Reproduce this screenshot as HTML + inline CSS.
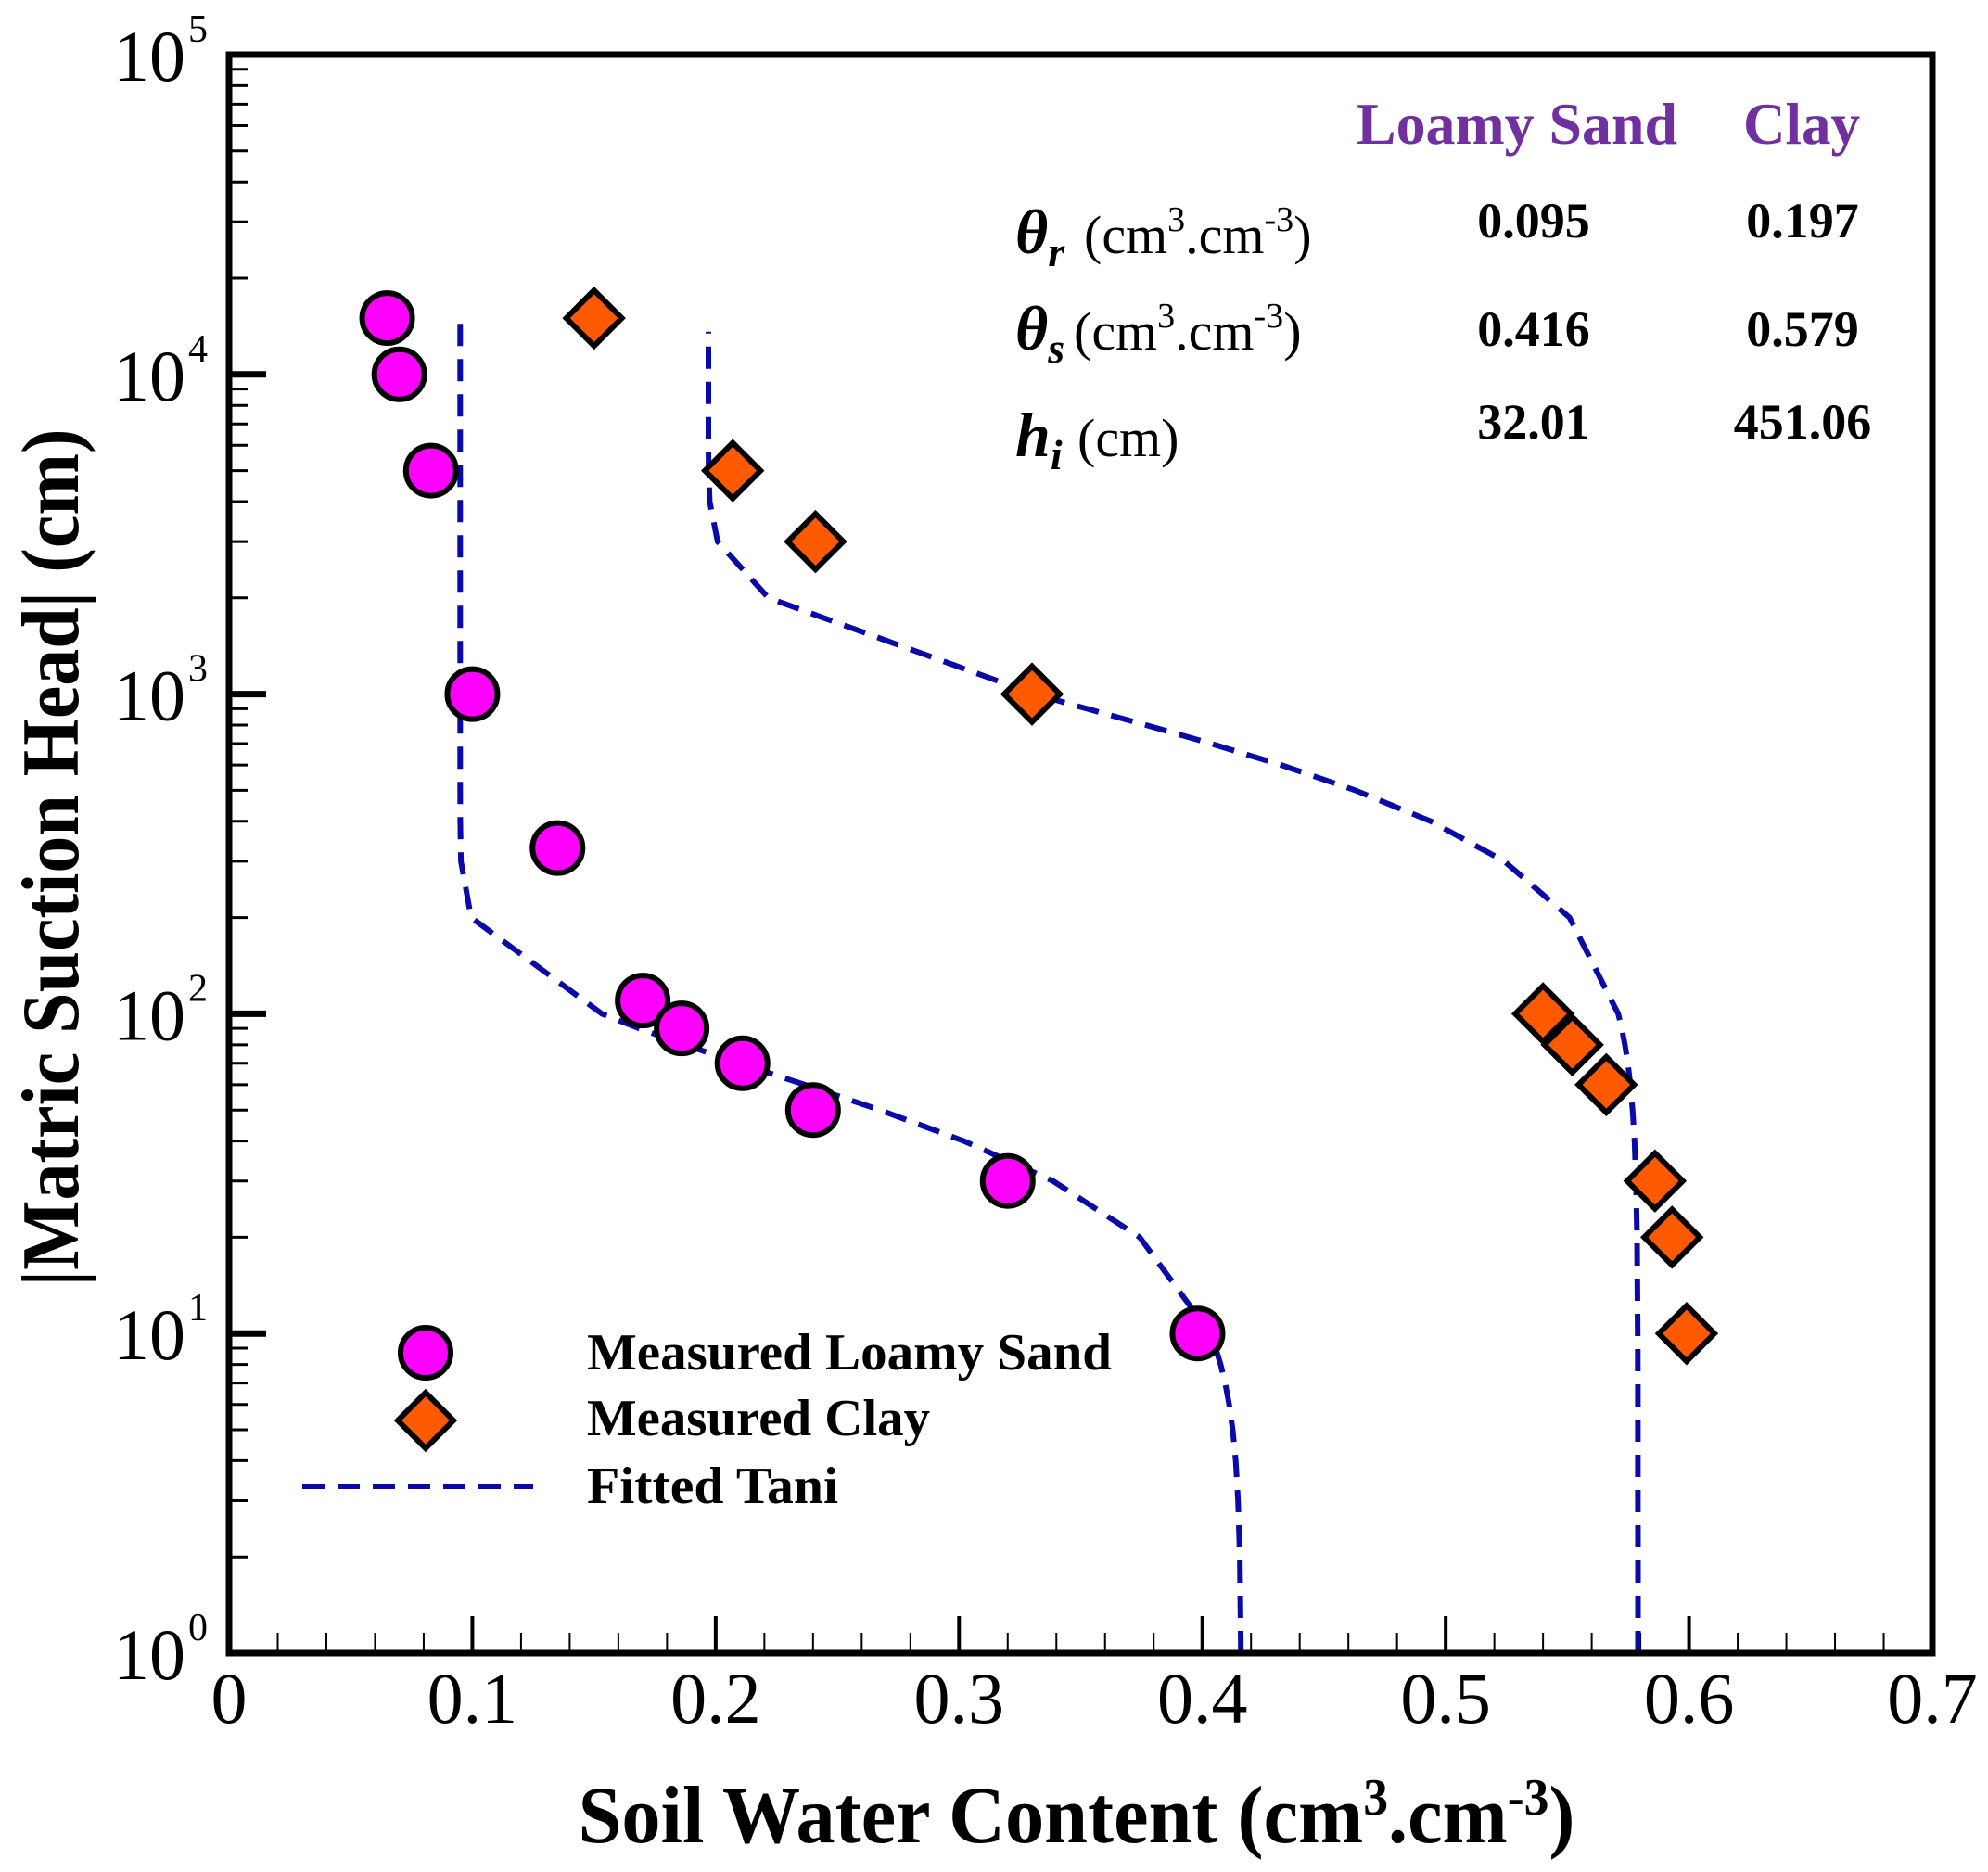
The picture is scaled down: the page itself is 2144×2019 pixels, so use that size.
<!DOCTYPE html>
<html><head><meta charset="utf-8"><style>
html,body{margin:0;padding:0;background:#fff}
svg{display:block}
text{font-family:"Liberation Serif",serif}
</style></head><body>
<svg id="s" width="2144" height="2019" viewBox="0 0 2144 2019" xmlns="http://www.w3.org/2000/svg">
<rect width="2144" height="2019" fill="#fff"/>
<g id="ticks" stroke="#000"></g>
<g id="curves" fill="none" stroke="#0a0aa8" stroke-width="6" stroke-dasharray="24 14"></g>
<g id="pts" stroke="#000" stroke-width="6"></g>
<rect x="247" y="59" width="1837" height="1724" fill="none" stroke="#000" stroke-width="7"/>
<g id="labels" font-size="78" fill="#000"></g>
<text x="1161" y="1987" font-size="88" font-weight="bold" text-anchor="middle" textLength="1075" lengthAdjust="spacingAndGlyphs">Soil Water Content (cm<tspan dy="-30" font-size="56">3</tspan><tspan dy="30">.cm</tspan><tspan dy="-30" font-size="56">-3</tspan><tspan dy="30">)</tspan></text>
<text transform="translate(84,925) rotate(-90)" font-size="88" font-weight="bold" text-anchor="middle" textLength="925" lengthAdjust="spacingAndGlyphs">|Matric Suction Head| (cm)</text>
<!-- legend -->
<circle cx="459" cy="1459" r="27" fill="#ff00ff" stroke="#000" stroke-width="6"/>
<polygon points="459,1502 489,1532 459,1562 429,1532" fill="#ff5a00" stroke="#000" stroke-width="6"/>
<line x1="326" y1="1603" x2="575" y2="1603" stroke="#0a0aa8" stroke-width="6" stroke-dasharray="24 14"/>
<g font-size="56" font-weight="bold">
<text x="633" y="1477" textLength="566" lengthAdjust="spacingAndGlyphs">Measured Loamy Sand</text>
<text x="633" y="1548" textLength="370" lengthAdjust="spacingAndGlyphs">Measured Clay</text>
<text x="633" y="1621" textLength="271" lengthAdjust="spacingAndGlyphs">Fitted Tani</text>
</g>
<!-- table -->
<g font-size="63" font-weight="bold" fill="#7030a0">
<text x="1463" y="155" textLength="346" lengthAdjust="spacingAndGlyphs">Loamy Sand</text>
<text x="1880" y="155" textLength="126" lengthAdjust="spacingAndGlyphs">Clay</text>
</g>
<g font-size="68">
<text x="1095" y="273"><tspan font-weight="bold" font-style="italic">θ</tspan><tspan font-weight="bold" font-style="italic" font-size="46" dy="14">r</tspan><tspan font-size="58" dy="-14" x="1169">(cm</tspan><tspan font-size="38" dy="-24">3</tspan><tspan font-size="58" dy="24">.cm</tspan><tspan font-size="38" dy="-24">-3</tspan><tspan font-size="58" dy="24">)</tspan></text>
<text x="1095" y="377"><tspan font-weight="bold" font-style="italic">θ</tspan><tspan font-weight="bold" font-style="italic" font-size="46" dy="14">s</tspan><tspan font-size="58" dy="-14" x="1158">(cm</tspan><tspan font-size="38" dy="-24">3</tspan><tspan font-size="58" dy="24">.cm</tspan><tspan font-size="38" dy="-24">-3</tspan><tspan font-size="58" dy="24">)</tspan></text>
<text x="1095" y="492"><tspan font-weight="bold" font-style="italic">h</tspan><tspan font-weight="bold" font-style="italic" font-size="46" dy="14">i</tspan><tspan font-size="58" dy="-14" x="1162">(cm)</tspan></text>
</g>
<g font-size="54" font-weight="bold" text-anchor="middle">
<text x="1654" y="256">0.095</text><text x="1944" y="256">0.197</text>
<text x="1654" y="373">0.416</text><text x="1944" y="373">0.579</text>
<text x="1654" y="473">32.01</text><text x="1944" y="473">451.06</text>
</g>
</svg>
<script>
var NS="http://www.w3.org/2000/svg";
function X(t){return 247+t*2624.3;}
function Y(h){return 1783-Math.log10(h)*344.8;}
function el(p,tag,a,txt){var e=document.createElementNS(NS,tag);for(var k in a)e.setAttribute(k,a[k]);if(txt)e.textContent=txt;document.getElementById(p).appendChild(e);return e;}
// y ticks
for(var d=0;d<5;d++){for(var m=1;m<10;m++){var y=Y(m*Math.pow(10,d));var L=m==1?40:20;if(!(m==1&&d==0))el("ticks","line",{x1:247,x2:247+L,y1:y,y2:y,"stroke-width":m==1?7:3});}}
// x ticks
for(var i=1;i<35;i++){var x=X(i*0.02);var maj=(i%5==0);el("ticks","line",{x1:x,x2:x,y1:1783,y2:1783-(maj?40:22),"stroke-width":maj?4:2});}
// labels
for(var d=0;d<=5;d++){var y=Y(Math.pow(10,d));var t=el("labels","text",{x:200,y:y+28,"text-anchor":"end"},"10");el("labels","text",{x:203,y:y-14,"font-size":42},""+d);}
for(var i=0;i<=7;i++){el("labels","text",{x:X(i*0.1),y:1858,"text-anchor":"middle"},i==0?"0":"0."+i);}
// curves
function hs(top){var a=[];for(var dec=1;dec<=10000;dec*=10){for(var m=1;m<10;m++){var h=m*dec;if(h>top)break;a.push(h);}}a.push(top);return a;}
function curve(tr,ts,hi,top){var a=hs(top),p="";for(var i=0;i<a.length;i++){var h=a[i],se=(1+h/hi)*Math.exp(-h/hi);if(h<=1)se=(1+1/hi)*Math.exp(-1/hi);var t=tr+(ts-tr)*se;p+=(i?"L":"M")+X(t).toFixed(1)+","+Y(h).toFixed(1);}el("curves","path",{d:p});}
curve(0.095,0.416,32.01,15500);curve(0.197,0.579,451.06,13600);
var ls=[[0.065,15000],[0.070,10000],[0.083,5000],[0.100,1000],[0.135,330],[0.170,110],[0.186,90],[0.211,70],[0.240,50],[0.320,30],[0.398,10]];
var cl=[[0.150,15000],[0.207,5000],[0.241,3000],[0.330,1000],[0.540,100],[0.552,80],[0.566,60],[0.586,30],[0.593,20],[0.599,10]];
ls.forEach(function(p){el("pts","circle",{cx:X(p[0]),cy:Y(p[1]),r:27,fill:"#ff00ff"});});
cl.forEach(function(p){var x=X(p[0]),y=Y(p[1]);el("pts","polygon",{points:x+","+(y-30)+" "+(x+30)+","+y+" "+x+","+(y+30)+" "+(x-30)+","+y,fill:"#ff5a00"});});
</script>
</body></html>
